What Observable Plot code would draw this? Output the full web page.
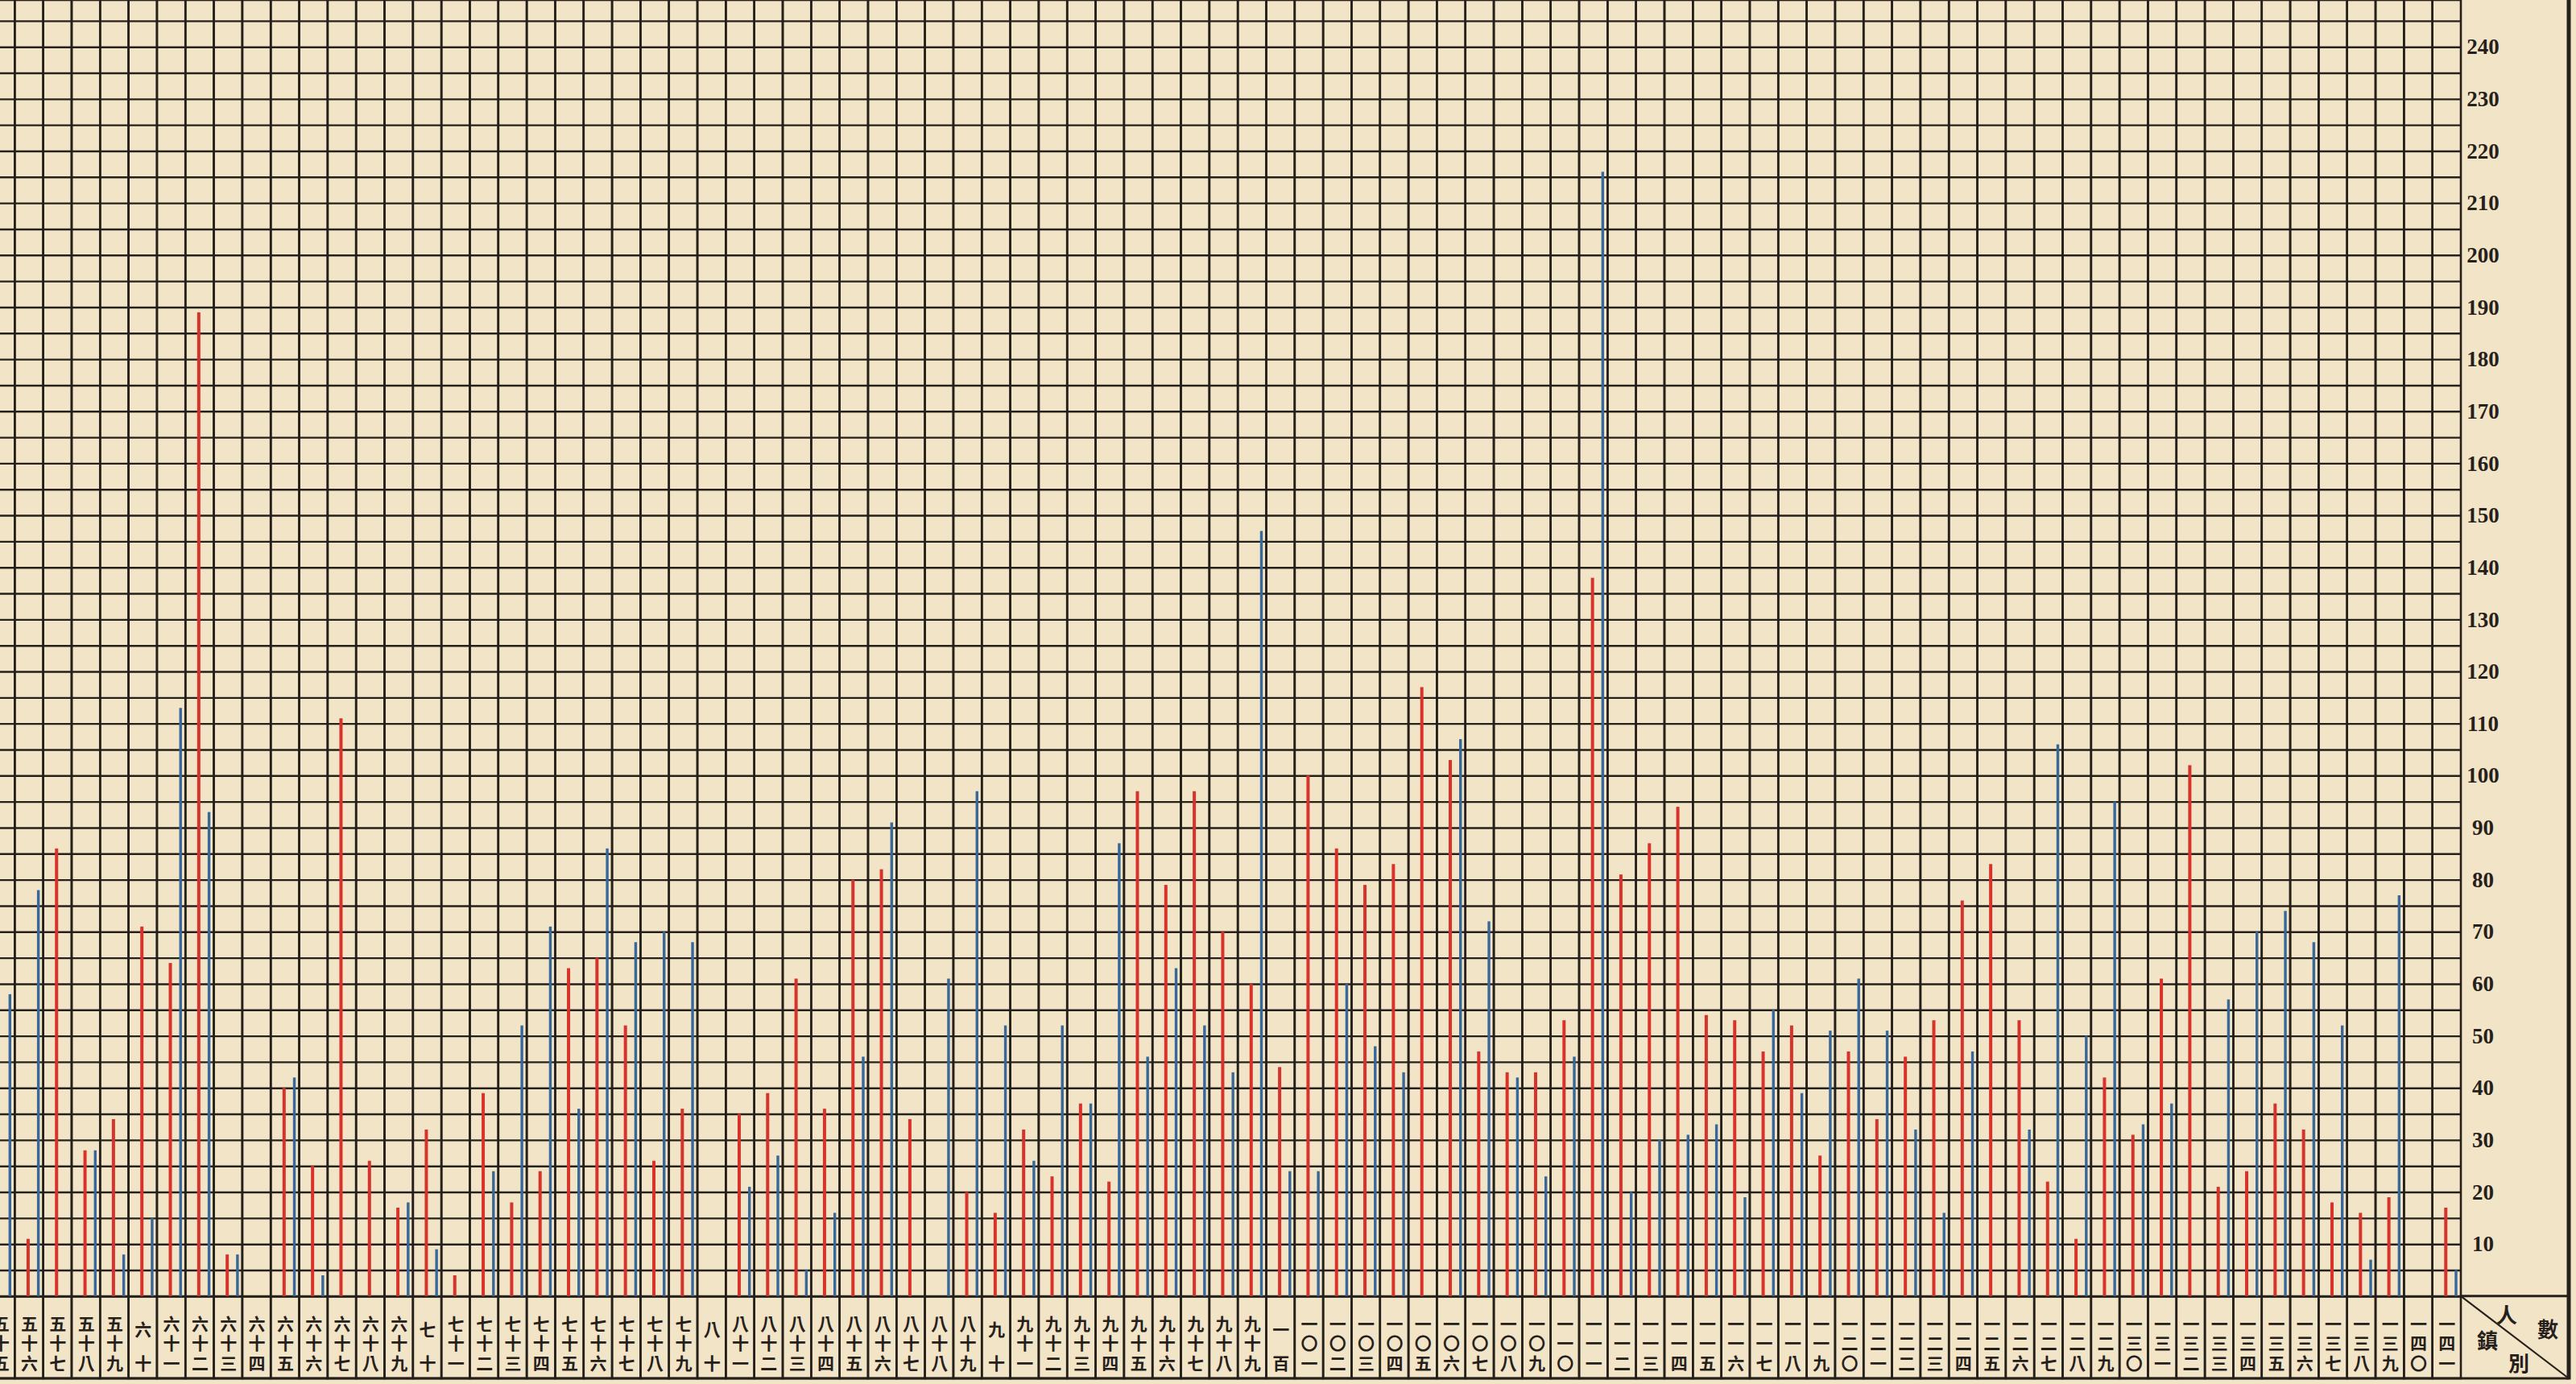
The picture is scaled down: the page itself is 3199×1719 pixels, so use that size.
<!DOCTYPE html>
<html>
<head>
<meta charset="utf-8">
<script src="https://cdn.jsdelivr.net/npm/d3@7"></script>
<script src="https://cdn.jsdelivr.net/npm/@observablehq/plot@0.6"></script>
<style>
  html, body { margin: 0; padding: 0; width: 3199px; height: 1719px; overflow: hidden; background: #f2e4c7; }
  #chart { position: absolute; left: -17px; top: 0; }
  #chart svg { max-width: none !important; }
</style>
</head>
<body>
<div id="chart"></div>
<script>
// ---- data: town labels (鎮別) and headcounts (人數) ----
const towns = [
  "五十五","五十六","五十七","五十八","五十九",
  "六十","六十一","六十二","六十三","六十四","六十五","六十六","六十七","六十八","六十九",
  "七十","七十一","七十二","七十三","七十四","七十五","七十六","七十七","七十八","七十九",
  "八十","八十一","八十二","八十三","八十四","八十五","八十六","八十七","八十八","八十九",
  "九十","九十一","九十二","九十三","九十四","九十五","九十六","九十七","九十八","九十九",
  "一百","一〇一","一〇二","一〇三","一〇四","一〇五","一〇六","一〇七","一〇八","一〇九",
  "一一〇","一一一","一一二","一一三","一一四","一一五","一一六","一一七","一一八","一一九",
  "一二〇","一二一","一二二","一二三","一二四","一二五","一二六","一二七","一二八","一二九",
  "一三〇","一三一","一三二","一三三","一三四","一三五","一三六","一三七","一三八","一三九",
  "一四〇","一四一"
];
const redValues = [
  null, 11, 86, 28, 34,
  71, 64, 189, 8, null, 40, 25, 111, 26, 17,
  32, 4, 39, 18, 24, 63, 65, 52, 26, 36,
  null, 35, 39, 61, 36, 80, 82, 34, null, 20,
  16, 32, 23, 37, 22, 97, 79, 97, 70, 60,
  44, 100, 86, 79, 83, 117, 103, 47, 43, 43,
  53, 138, 81, 87, 94, 54, 53, 47, 52, 27,
  47, 34, 46, 53, 76, 83, 53, 22, 11, 42,
  31, 61, 102, 21, 24, 37, 32, 18, 16, 19,
  null, 17
];
const blueValues = [
  58, 78, null, 28, 8,
  15, 113, 93, 8, null, 42, 4, null, null, 18,
  9, null, 24, 52, 71, 36, 86, 68, 70, 68,
  null, 21, 27, 5, 16, 46, 91, null, 61, 97,
  52, 26, 52, 37, 87, 46, 63, 52, 43, 147,
  24, 24, 60, 48, 43, null, 107, 72, 42, 23,
  46, 216, 20, 30, 31, 33, 19, 55, 39, 51,
  61, 51, 32, 16, 47, null, 32, 106, 50, 95,
  33, 37, null, 57, 70, 74, 68, 52, 7, 77,
  null, 5
];
const yTickLabels = [10,20,30,40,50,60,70,80,90,100,110,120,130,140,150,160,170,180,190,200,210,220,230,240];
const gridLevels = d3.range(0, 250, 5);

// ---- layout / style ----
const SHIFT = 17, W = 3199 + SHIFT, H = 1719;
const MR = 143, MB = 7;
const Y_MIN = -15.8, Y_MAX = 249;
const INK = "#26201b", RED = "#d8332b", BLUE = "#38679a";
const bw = (W - MR) / towns.length;

const rows = (vals, series) => towns.map((t, i) => ({town: t, value: vals[i], series}))
  .filter(d => d.value != null && d.value > 0);
const redRows = rows(redValues, "red");
const blueRows = rows(blueValues, "blue");

const lineW = 4;
const plot = Plot.plot({
  width: W, height: H,
  marginLeft: 0, marginRight: MR, marginTop: 0, marginBottom: MB,
  style: "background: transparent; max-width: none; overflow: visible;",
  x: {type: "band", domain: towns, padding: 0, round: false, axis: null},
  y: {domain: [Y_MIN, Y_MAX], axis: null},
  marks: [
    Plot.ruleY(gridLevels, {stroke: INK, strokeWidth: 2.4}),
    Plot.barY(towns, {x: d => d, y1: Y_MIN, y2: Y_MAX, fill: "none", stroke: INK, strokeWidth: 2.6}),
    Plot.ruleY([0], {stroke: INK, strokeWidth: 3}),
    Plot.barY(redRows, {x: "town", y1: 0, y2: "value", fill: RED,
      insetLeft: bw * 0.47 - lineW / 2, insetRight: bw * 0.53 - lineW / 2}),
    Plot.barY(blueRows, {x: "town", y1: 0, y2: "value", fill: BLUE,
      insetLeft: bw * 0.83 - lineW / 2 + 0.3, insetRight: bw * 0.17 - lineW / 2 + 0.3}),
    Plot.text(towns.filter(t => t.length === 3), {x: d => d, y: Y_MIN / 2, dy: 7,
      text: d => d.split("").join("\n"), lineHeight: 1.16, lineAnchor: "middle",
      fontSize: 21, fontWeight: 700, fontFamily: "Noto Sans CJK TC", fill: INK}),
    Plot.text(towns.filter(t => t.length === 2), {x: d => d, y: Y_MIN / 2, dy: 5,
      text: d => d.split("").join("\n"), lineHeight: 2.0, lineAnchor: "middle",
      fontSize: 21, fontWeight: 700, fontFamily: "Noto Sans CJK TC", fill: INK}),
    Plot.text(yTickLabels, {y: d => d, frameAnchor: "right", dx: 27, text: d => String(d),
      textAnchor: "middle", fontSize: 27, fontWeight: 700, fontFamily: "Liberation Serif", fill: INK})
  ]
});
document.getElementById("chart").append(plot);

// ---- table frame: corner header cell 人數 / 鎮別 and outer border ----
const svg = d3.select(plot);
const ys = plot.scale("y");
const y0 = ys.apply(0), yb = ys.apply(Y_MIN);
const xR = W - MR, xB = 3190 + SHIFT;
const g = svg.append("g").attr("stroke", INK).attr("fill", "none");
g.append("line").attr("x1", xR).attr("x2", xB).attr("y1", y0).attr("y2", y0).attr("stroke-width", 3);
g.append("line").attr("x1", 0).attr("x2", xB).attr("y1", yb).attr("y2", yb).attr("stroke-width", 3);
g.append("line").attr("x1", xB).attr("x2", xB).attr("y1", 0).attr("y2", yb + 1.5).attr("stroke-width", 5);
g.append("line").attr("x1", xR).attr("y1", y0).attr("x2", xB).attr("y2", yb).attr("stroke-width", 2.2);
const t = svg.append("g").attr("fill", INK).attr("font-family", "Noto Sans CJK TC")
  .attr("font-weight", 700).attr("font-size", 26).attr("text-anchor", "middle").attr("dominant-baseline", "central");
[["人", xR + 57, y0 + 22], ["數", xR + 108, y0 + 40], ["鎮", xR + 33, y0 + 54], ["別", xR + 72, y0 + 82]]
  .forEach(([s, x, y]) => t.append("text").attr("x", x).attr("y", y).text(s));
</script>
</body>
</html>
